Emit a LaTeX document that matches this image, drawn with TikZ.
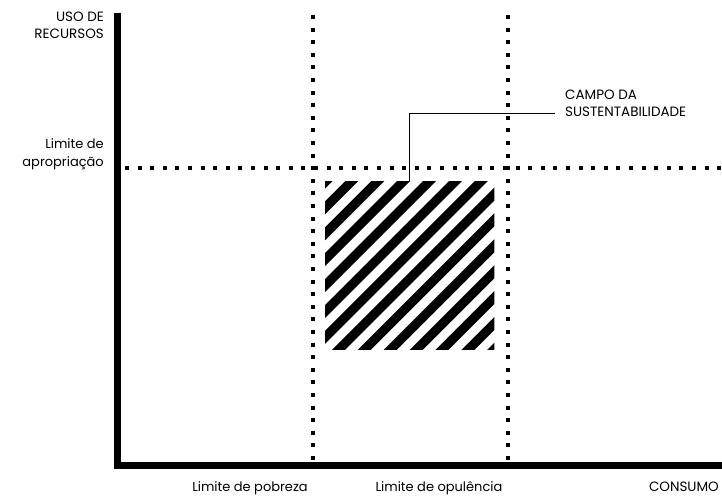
\documentclass[tikz,border=0pt]{standalone}
\usepackage{fontspec}
\setmainfont{Poppins}
\begin{document}
\begin{tikzpicture}[x=1pt,y=-1pt,
  lbl/.style={inner sep=0pt,font=\fontsize{13}{15}\selectfont},
  caplbl/.style={inner sep=0pt,font=\fontsize{13.5}{15}\selectfont},
  dotline/.style={line width=4pt,dash pattern=on 4pt off 8.6pt},
  axisline/.style={line width=6.5pt,line join=miter},
  leader/.style={line width=0.9pt},
  stripe/.style={line width=9.2pt}]
\useasboundingbox (0,0) rectangle (722,495);
% axes
\coordinate (ytop) at (117.5,13);
\coordinate (orig) at (117.5,465.5);
\coordinate (xend) at (722,465.5);
\draw[axisline] (ytop) -- (orig) -- (xend);
% dotted limits
\coordinate (pt) at (312.5,15);
\coordinate (pb) at (312.5,462);
\coordinate (ot) at (508,15);
\coordinate (ob) at (508,462);
\coordinate (al) at (125,168);
\coordinate (ar) at (722,168);
\draw[dotline] (pt) -- (pb);
\draw[dotline] (ot) -- (ob);
\draw[dotline] (al) -- (ar);
% hatched field
\node[minimum width=169pt,minimum height=168pt,inner sep=0pt,anchor=north west] (campo) at (325,181) {};
\begin{scope}
\clip (campo.north west) rectangle (campo.south east);
\foreach \k in {-1,...,14}{
  \pgfmathsetmacro{\c}{507+25.9*\k}
  \draw[stripe] (\c-160,160) -- (\c-370,370);
}
\end{scope}
% leader
\coordinate (lk) at (409,113);
\coordinate (le) at (555,113);
\draw[leader] (campo.north -| lk) -- (lk) -- (le);
% labels
\node[caplbl,anchor=base west] (campoda) at (565,99.5) {CAMPO DA};
\node[caplbl,anchor=base west] (sust) at (565,116.5) {SUSTENTABILIDADE};
\node[caplbl,anchor=base east] (usode) at (104,21.5) {USO DE};
\node[caplbl,anchor=base east] (recursos) at (104,39) {RECURSOS};
\node[lbl,anchor=base east] (limap) at (104,148) {Limite de};
\node[lbl,anchor=base east] (aprop) at (104,166) {apropriação};
\node[lbl,anchor=base] (pobreza) at (250,491) {Limite de pobreza};
\node[lbl,anchor=base] (opul) at (439,491) {Limite de opulência};
\node[caplbl,anchor=base east] (consumo) at (719,491) {CONSUMO};
\end{tikzpicture}
\end{document}
